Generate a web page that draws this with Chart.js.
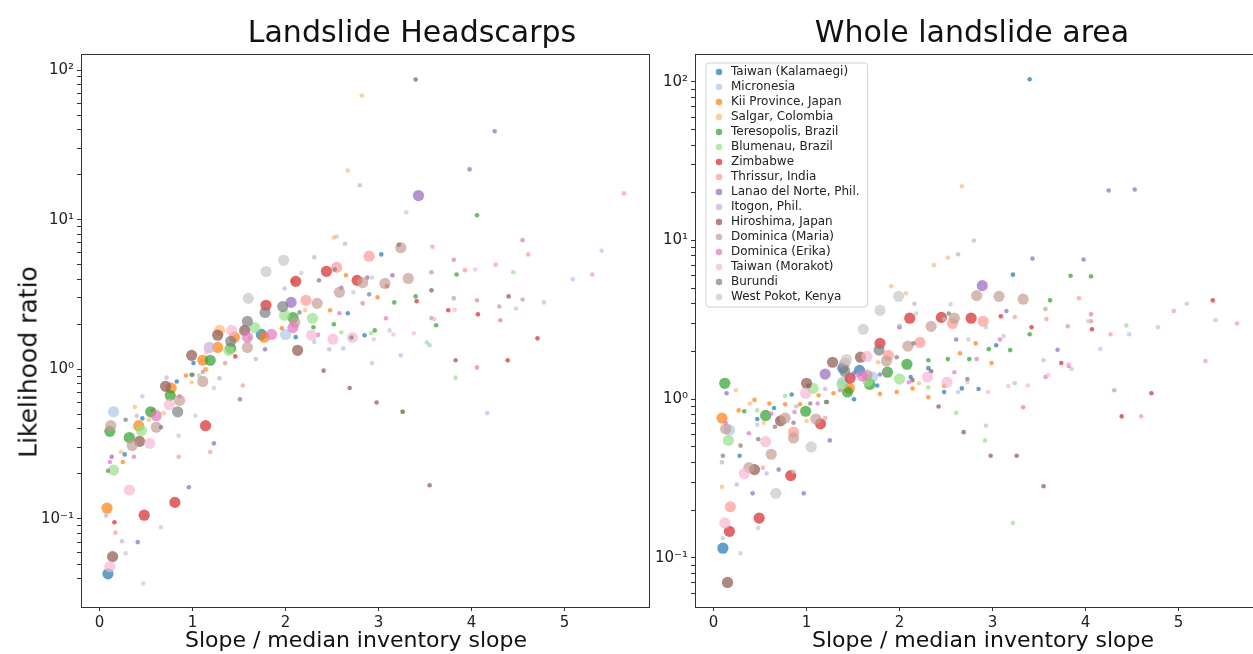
<!DOCTYPE html>
<html><head><meta charset="utf-8">
<script src="https://cdn.jsdelivr.net/npm/chart.js@4/dist/chart.umd.min.js"></script>
<style>
html,body{margin:0;padding:0;background:#fff;overflow:hidden;width:1253px;height:654px;position:relative;}
#c1{position:absolute;left:0;top:0;width:656px;height:654px;}
#c2{position:absolute;left:650px;top:0;width:620px;height:654px;}
.lab{position:absolute;font-family:'DejaVu Sans';color:#111;white-space:nowrap;}
#ylab{left:28px;top:362px;transform:translate(-50%,-50%) rotate(-90deg);font-size:25px;}
.ttl{font-size:30px;line-height:36px;top:14px;transform:translateX(-50%);}
.xl{font-size:22px;line-height:26px;top:627px;transform:translateX(-50%);}
</style></head><body>
<canvas id="c1" width="656" height="654"></canvas>
<canvas id="c2" width="620" height="654"></canvas>
<div id="t1" class="lab ttl" style="left:412px"></div>
<div id="t2" class="lab ttl" style="left:972px"></div>
<div id="x1" class="lab xl" style="left:356px"></div>
<div id="x2" class="lab xl" style="left:983px"></div>
<div id="ylab" class="lab"></div>
<script>
const regionNames = ['Taiwan (Kalamaegi)','Micronesia','Kii Province, Japan','Salgar, Colombia','Teresopolis, Brazil','Blumenau, Brazil','Zimbabwe','Thrissur, India','Lanao del Norte, Phil.','Itogon, Phil.','Hiroshima, Japan','Dominica (Maria)','Dominica (Erika)','Taiwan (Morakot)','Burundi','West Pokot, Kenya'];
const regionColors = ['#1f77b4','#aec7e8','#ff7f0e','#ffbb78','#2ca02c','#98df8a','#d62728','#ff9896','#9467bd','#c5b0d5','#8c564b','#c49c94','#e377c2','#f7b6d2','#7f7f7f','#c7c7c7'];
const panelTitles = ['Landslide Headscarps','Whole landslide area'];
const xAxisTitle = 'Slope / median inventory slope';
const yAxisTitle = 'Likelihood ratio';
const xTickValues = [0,1,2,3,4,5];
const yTickValues = [0.1,1,10,100];
const yTickLabels = ['10\u207B\u00B9','10\u2070','10\u00B9','10\u00B2'];

// [slope ratio, likelihood ratio, large-sample flag]
const hs_kalamaegi = [[0.09,0.043,1],[0.27,0.27,0],[0.46,0.47,0],[0.83,0.83,0],[1.01,1.1,0],[1.74,1.71,1],[2.11,1.64,0],[2.67,2.37,0],[2.85,1.69,0],[3.03,5.86,0],[3.40,86.5,0]];
const hs_micronesia = [[0.15,0.52,1],[0.46,0.66,0],[2.0,1.71,1],[2.31,1.52,0],[2.62,1.38,0],[2.93,1.1,0],[3.24,1.24,0],[3.55,1.45,0],[4.17,0.51,0],[4.48,2.55,0],[4.78,2.8,0],[5.09,4.0,0],[5.40,6.2,0]];
const hs_kii = [[0.08,0.118,1],[0.25,0.24,0],[0.42,0.42,1],[0.57,0.53,0],[0.77,0.75,1],[0.93,0.91,0],[1.11,1.15,1],[1.14,1.0,0],[1.27,1.40,1],[1.45,1.64,1],[1.77,1.64,1],[1.96,1.88,0],[2.48,2.48,0],[2.65,4.25,0],[2.99,3.03,0]];
const hs_salgar = [[0.23,0.28,0],[0.38,0.56,0],[0.53,0.46,0],[0.69,0.51,0],[0.99,0.82,0],[1.15,0.99,0],[1.29,1.82,1],[1.62,1.62,0],[2.08,3.87,0],[2.21,2.48,0],[2.52,7.6,0],[2.67,21.3,0],[2.82,67.6,0]];
const hs_teresopolis = [[0.11,0.385,1],[0.32,0.35,1],[0.55,0.52,1],[0.76,0.67,1],[0.99,0.92,0],[1.19,1.15,1],[1.41,1.38,1],[2.08,2.22,1],[2.30,1.91,0],[2.52,2.0,0],[2.96,1.82,0],[3.17,2.8,0],[3.40,3.07,0],[3.62,1.97,0],[3.84,4.3,0],[4.06,10.7,0]];
const hs_blumenau = [[0.15,0.212,1],[0.45,0.39,1],[1.07,0.91,0],[1.39,1.34,1],[1.67,1.9,1],[1.99,2.3,1],[2.29,2.19,1],[2.6,1.77,0],[2.92,1.74,0],[3.26,0.52,0],[3.52,1.51,0],[3.83,0.88,0],[4.45,4.45,0]];
const hs_zimbabwe = [[0.16,0.095,0],[0.48,0.106,1],[0.81,0.129,1],[1.14,0.42,1],[1.46,1.22,0],[1.79,2.68,1],[2.11,3.87,1],[2.44,4.52,1],[2.77,3.93,1],[3.09,3.6,0],[3.41,2.85,0],[3.75,2.48,0],[4.07,2.33,0],[4.39,1.15,0],[4.71,1.61,0]];
const hs_thrissur = [[0.17,0.081,0],[0.85,0.26,0],[1.19,0.28,0],[1.54,0.78,0],[2.22,2.89,1],[2.55,4.8,1],[2.9,5.7,1],[3.58,6.6,0],[3.93,4.6,0],[4.26,5.0,0],[4.61,5.86,0],[5.30,4.3,0],[5.64,15,0]];
const hs_lanao = [[0.13,0.26,0],[0.41,0.07,0],[0.96,0.163,0],[1.23,0.32,0],[1.51,0.63,0],[1.78,1.36,0],[2.06,2.8,1],[2.60,3.5,0],[2.88,4.1,0],[3.15,4.25,0],[3.43,14.5,1],[3.98,21.7,0],[4.25,39,0]];
const hs_itogon = [[0.07,0.105,0],[0.24,0.071,0],[0.40,0.49,0],[0.72,0.88,0],[1.18,1.40,1],[1.29,0.87,0],[1.68,1.17,0],[1.99,3.47,0],[2.31,5.6,0],[2.47,1.36,0],[2.64,6.9,0],[2.80,17,0]];
const hs_hiroshima = [[0.14,0.056,1],[0.43,0.33,1],[0.71,0.77,1],[0.99,1.24,1],[1.27,1.69,1],[1.56,1.82,1],[2.13,1.34,1],[2.41,0.98,0],[2.69,0.75,0],[2.98,0.60,0],[3.26,0.52,0],[3.55,0.168,0],[3.57,3.37,0],[3.83,1.15,0],[4.40,3.07,0]];
const hs_maria = [[0.12,0.42,1],[0.35,0.31,1],[0.61,0.41,1],[0.86,0.62,1],[1.11,0.83,1],[1.35,1.1,0],[1.59,1.4,1],[2.10,2.06,1],[2.34,2.76,1],[2.58,3.27,1],[2.83,3.8,1],[3.07,3.75,1],[3.24,6.5,1],[3.32,4.05,1],[3.57,2.2,0],[3.81,2.98,0],[4.06,2.89,0],[4.30,2.63,0],[4.55,2.93,0]];
const hs_erika = [[0.11,0.24,0],[0.37,0.26,0],[0.61,0.49,1],[0.86,0.66,0],[1.11,0.96,0],[1.59,1.64,1],[1.85,1.71,1],[2.08,1.9,1],[2.35,1.7,0],[2.58,2.37,0],[2.83,2.76,0],[3.08,2.19,0],[3.57,4.45,0],[3.81,5.4,0],[4.06,1.03,0],[4.31,2.13,0],[4.55,7.3,0]];
const hs_morakot = [[0.11,0.048,1],[0.32,0.156,1],[0.54,0.32,1],[0.75,0.58,1],[1.15,1.3,0],[1.42,1.82,1],[2.28,1.69,1],[2.51,1.59,1],[2.72,1.63,1],[2.95,1.59,0],[3.16,1.71,0],[3.38,1.74,0],[3.6,2.16,0],[3.82,2.5,0],[4.04,4.65,0]];
const hs_burundi = [[0.09,0.21,0],[0.28,0.46,0],[0.66,0.41,0],[0.84,0.52,1],[1.0,0.92,0],[1.41,1.54,1],[1.59,2.09,1],[1.78,2.4,1],[1.97,2.63,1],[2.15,2.4,0],[2.36,3.93,0],[2.53,4.65,0],[2.71,1.63,0],[2.9,3.17,0],[3.22,6.8,0]];
const hs_westpokot = [[0.28,0.059,0],[0.47,0.037,0],[0.66,0.088,0],[0.85,0.36,0],[1.03,0.49,0],[1.23,0.75,0],[1.60,2.98,1],[1.79,4.5,1],[1.98,5.35,1],[2.17,4.4,0],[2.55,7.7,0],[2.73,3.27,0],[2.93,4.1,0],[3.12,1.82,0],[3.30,11.2,0]];

const wa_kalamaegi = [[0.10,0.115,1],[0.28,0.44,0],[0.47,0.75,0],[0.65,0.88,0],[0.84,1.07,0],[1.02,1.22,0],[1.39,1.57,1],[1.51,1.0,0],[1.57,1.52,1],[1.76,1.22,0],[2.12,1.38,0],[2.31,1.57,0],[2.48,1.11,0],[2.67,1.17,0],[2.85,1.16,0],[3.04,2.19,0],[3.22,6.1,0],[3.40,104,0]];
const wa_micronesia = [[0.17,0.64,1],[0.47,0.69,0],[1.39,1.28,1],[1.71,1.38,1],[2.63,1.11,0],[2.93,0.68,0],[3.24,1.26,0],[3.55,1.76,0],[3.85,1.55,0],[4.16,2.07,0],[4.47,2.57,0],[4.78,2.84,0],[5.09,4.0,0],[5.40,3.15,0]];
const wa_kii = [[0.09,0.76,1],[0.27,0.85,0],[0.44,0.99,0],[0.60,0.94,0],[0.77,0.93,0],[0.93,0.93,0],[1.13,1.06,0],[1.29,1.09,0],[1.46,1.17,1],[1.79,1.08,0],[1.97,1.11,0],[2.14,1.17,0],[2.31,1.03,0],[2.48,1.21,0],[2.65,1.95,0],[2.82,2.25,0],[2.99,1.69,0]];
const wa_salgar = [[0.09,0.28,0],[0.24,1.14,0],[0.39,0.94,0],[0.54,0.71,0],[0.70,0.75,0],[1.0,0.73,0],[1.77,1.71,0],[1.91,5.15,0],[2.07,4.65,0],[2.21,1.26,0],[2.37,7.0,0],[2.52,7.8,0],[2.67,22,0]];
const wa_teresopolis = [[0.12,1.26,1],[0.33,0.84,0],[0.56,0.79,1],[0.99,0.84,1],[1.21,0.96,0],[1.44,1.11,1],[1.68,1.24,1],[1.87,1.48,1],[2.08,1.66,1],[2.31,1.76,0],[2.52,1.79,0],[2.75,1.79,0],[2.96,2.07,0],[3.19,2.04,0],[3.40,2.57,0],[3.62,4.2,0],[3.84,6.0,0],[4.06,5.95,0]];
const wa_blumenau = [[0.16,0.55,1],[0.47,0.85,0],[0.77,1.05,0],[1.07,1.17,1],[1.38,1.24,1],[1.66,1.3,1],[2.0,1.34,1],[2.31,1.19,0],[2.61,0.82,0],[2.92,0.55,0],[3.22,0.166,0],[4.44,2.92,0]];
const wa_zimbabwe = [[0.17,0.147,1],[0.49,0.178,1],[0.83,0.33,1],[1.15,0.70,1],[1.47,1.36,1],[1.79,2.25,1],[2.11,3.24,1],[2.45,3.28,1],[2.77,3.24,1],[3.09,3.33,0],[3.42,2.84,0],[3.74,1.69,0],[4.07,2.76,0],[4.39,0.78,0],[4.71,1.09,0],[5.37,4.2,0]];
const wa_thrissur = [[0.18,0.21,1],[0.53,0.37,0],[0.86,0.62,1],[1.2,0.76,0],[1.88,1.89,1],[2.22,2.28,1],[2.57,3.0,1],[2.9,3.1,1],[3.24,3.3,0],[3.58,3.2,0],[3.93,4.33,0],[4.27,2.57,0],[4.6,0.78,0],[4.95,3.6,0],[5.29,1.74,0],[5.63,3.0,0]];
const wa_lanao = [[0.14,1.09,0],[0.42,0.255,0],[0.70,0.36,0],[0.97,0.255,0],[1.2,1.44,1],[1.25,0.55,0],[1.51,1.46,0],[1.79,1.43,0],[2.0,2.84,0],[2.61,2.38,0],[2.89,5.2,1],[3.15,3.6,0],[3.43,7.7,0],[3.70,2.05,0],[3.98,7.6,0],[4.25,20.7,0],[4.53,21,0]];
const wa_itogon = [[0.09,0.4,0],[0.25,0.29,0],[0.57,0.34,0],[0.89,0.9,0],[1.2,1.16,0],[1.55,1.42,0],[2.0,2.9,0],[2.16,4.0,0],[2.48,3.2,0],[2.63,8.2,0],[2.80,10.0,0]];
const wa_hiroshima = [[0.15,0.07,1],[0.44,0.36,1],[0.72,0.73,1],[1.0,1.26,1],[1.28,1.71,1],[1.58,1.84,1],[2.14,1.32,0],[2.34,1.5,0],[2.42,0.9,0],[2.69,0.62,0],[2.98,0.44,0],[3.26,0.44,0],[3.55,0.283,0]];
const wa_maria = [[0.13,0.65,1],[0.38,0.37,1],[0.62,0.45,1],[0.77,0.76,1],[0.86,0.57,1],[1.10,0.75,1],[1.41,1.68,1],[1.65,1.42,1],[1.86,1.74,1],[2.09,2.16,1],[2.34,2.88,1],[2.59,3.24,1],[2.83,4.5,1],[3.07,4.45,1],[3.33,4.27,1],[3.57,3.7,0],[3.81,2.88,0],[4.06,3.1,0],[4.31,1.14,0]];
const wa_erika = [[0.13,0.71,0],[0.38,0.61,0],[0.62,0.81,0],[0.87,0.83,0],[1.12,0.94,0],[1.36,1.14,0],[1.60,1.40,1],[1.85,1.5,0],[2.10,1.28,0],[2.59,1.48,0],[2.83,1.79,0],[3.08,2.38,0],[3.33,0.89,0],[3.57,1.38,0],[3.82,1.62,0],[4.06,3.43,0]];
const wa_morakot = [[0.12,0.166,1],[0.33,0.34,1],[0.56,0.54,1],[0.99,1.09,1],[1.65,1.86,1],[2.30,1.38,1],[2.51,1.28,1],[2.73,1.28,0],[2.95,1.11,0],[3.17,1.21,0],[3.38,1.22,0],[3.60,1.42,0],[3.82,1.66,0],[4.03,3.1,0]];
const wa_burundi = [[0.10,0.44,0],[0.29,0.51,0],[0.48,0.56,0],[0.66,0.67,0],[0.86,0.71,0],[1.04,0.94,0],[1.22,0.96,0],[1.41,1.5,1],[1.78,2.04,1],[1.97,1.84,0],[2.15,2.25,0],[2.53,3.47,0],[2.73,1.34,0]];
const wa_westpokot = [[0.10,0.133,0],[0.29,0.107,0],[0.48,0.154,0],[0.67,0.255,1],[0.86,0.35,0],[1.05,0.50,1],[1.43,1.78,1],[1.61,2.76,1],[1.79,3.63,1],[1.99,4.45,1],[2.18,3.47,0],[2.55,3.97,0],[2.74,2.38,0],[2.93,2.84,0],[3.12,2.5,0]];

const headscarpSeries = [hs_kalamaegi,hs_micronesia,hs_kii,hs_salgar,hs_teresopolis,hs_blumenau,hs_zimbabwe,hs_thrissur,hs_lanao,hs_itogon,hs_hiroshima,hs_maria,hs_erika,hs_morakot,hs_burundi,hs_westpokot];
const wholeSeries = [wa_kalamaegi,wa_micronesia,wa_kii,wa_salgar,wa_teresopolis,wa_blumenau,wa_zimbabwe,wa_thrissur,wa_lanao,wa_itogon,wa_hiroshima,wa_maria,wa_erika,wa_morakot,wa_burundi,wa_westpokot];

document.getElementById('t1').textContent = panelTitles[0];
document.getElementById('t2').textContent = panelTitles[1];
document.getElementById('x1').textContent = xAxisTitle;
document.getElementById('x2').textContent = xAxisTitle;
document.getElementById('ylab').textContent = yAxisTitle;

const FONT = "'DejaVu Sans', sans-serif";
const BIG_R = 5.6, SMALL_R = 2.3, ALPHA = 0.7;

function rgba(hex, a){const n=parseInt(hex.slice(1),16);return `rgba(${(n>>16)&255},${(n>>8)&255},${n&255},${a})`;}
function isDecadeTick(v){const e=Math.floor(Math.log10(v)+1e-9);const s=v/Math.pow(10,e);return Math.abs(s-Math.round(s))<1e-6;}
function yLabel(v){const i=yTickValues.findIndex(t=>Math.abs(t-v)/t<1e-6);return i>=0?yTickLabels[i]:'';}

const spinePlugin = {
  id:'spines',
  afterDatasetsDraw(chart){
    const a=chart.chartArea, c=chart.ctx;
    c.save(); c.strokeStyle='#333'; c.lineWidth=1;
    c.strokeRect(Math.round(a.left)+0.5, Math.round(a.top)+0.5, Math.round(a.right-a.left), Math.round(a.bottom-a.top));
    c.restore();
  }
};
const legendPlugin = {
  id:'legendPlace',
  afterLayout(chart){
    const lg=chart.legend; if(!lg||!lg.options.display) return;
    lg.left = chart.chartArea.left + 15;
    lg.top = chart.chartArea.top + 9;
    lg.right = lg.left + lg.width;
    lg.bottom = chart.chartArea.bottom;
  },
  beforeDraw(chart){
    const lg=chart.legend; if(!lg||!lg.options.display) return;
    const c=chart.ctx; c.save();
    c.font = "12px " + FONT;
    let mw=0; regionNames.forEach(n=>{mw=Math.max(mw,c.measureText(n).width);});
    const x0=lg.left-4, y0=lg.top, w=3+12+6+mw+12, h=3+regionNames.length*15+1;
    const r=3;
    c.beginPath();
    c.moveTo(x0+r,y0); c.lineTo(x0+w-r,y0); c.quadraticCurveTo(x0+w,y0,x0+w,y0+r);
    c.lineTo(x0+w,y0+h-r); c.quadraticCurveTo(x0+w,y0+h,x0+w-r,y0+h);
    c.lineTo(x0+r,y0+h); c.quadraticCurveTo(x0,y0+h,x0,y0+h-r);
    c.lineTo(x0,y0+r); c.quadraticCurveTo(x0,y0,x0+r,y0); c.closePath();
    c.fillStyle='rgba(255,255,255,0.8)'; c.fill();
    c.strokeStyle='#d0d0d0'; c.lineWidth=1; c.stroke();
    c.restore();
  }
};

function buildDatasets(series){
  return series.map((pts,i)=>({
    label: regionNames[i],
    data: pts.map(p=>({x:p[0], y:p[1]})),
    pointRadius: pts.map(p=>p[2]?BIG_R:SMALL_R),
    pointHoverRadius: pts.map(p=>p[2]?BIG_R:SMALL_R),
    backgroundColor: rgba(regionColors[i], ALPHA),
    borderWidth: 0,
    pointBorderWidth: 0,
    order: series.length - i
  }));
}

function isTick(axis, v){
  if(axis==='x') return xTickValues.some(t=>Math.abs(t-v)<1e-9);
  return isDecadeTick(v);
}

function makeChart(id, series, cfg){
  const tickGrid = {
    display:true, drawOnChartArea:false, drawTicks:true, tickLength:4,
    tickColor: ctx => (ctx.tick && isTick(ctx.scale.axis, ctx.tick.value)) ? '#333' : 'rgba(0,0,0,0)',
    tickWidth: 1
  };
  return new Chart(document.getElementById(id), {
    type:'scatter',
    data:{datasets: buildDatasets(series)},
    options:{
      responsive:false, animation:false, events:[],
      layout:{padding:{left:0,right:7,top:54,bottom:0}},
      plugins:{
        title:{display:false},
        legend: cfg.legend ? {
          display:true, position:'chartArea', align:'start',
          labels:{usePointStyle:true, pointStyle:'circle', boxHeight:4.6, boxWidth:12, padding:3,
                  color:'#222', font:{family:FONT,size:12},
                  sort:(a,b)=>a.datasetIndex-b.datasetIndex}
        } : {display:false},
        tooltip:{enabled:false}
      },
      scales:{
        x:{type:'linear', min:-0.2, max:5.91,
           afterFit:s=>{s.height=47;},
           ticks:{stepSize:1, includeBounds:false, autoSkip:false, maxRotation:0,
                  callback:v=> xTickValues.includes(v)? String(v) : '',
                  color:'#222', font:{family:FONT,size:15}, padding:3},
           grid:tickGrid, border:{display:false}},
        y:{type:'logarithmic', min:cfg.ymin, max:cfg.ymax,
           afterFit:s=>{s.width=cfg.yWidth;},
           ticks:{autoSkip:false, callback:v=>yLabel(v), color:'#222', font:{family:FONT,size:15}, padding:3},
           grid:tickGrid, border:{display:false}}
      }
    },
    plugins:[spinePlugin, legendPlugin]
  });
}

makeChart('c1', headscarpSeries, {ymin:0.0258, ymax:128, yWidth:81, legend:false});
makeChart('c2', wholeSeries, {ymin:0.049, ymax:150, yWidth:45, legend:true});
</script>
</body></html>
